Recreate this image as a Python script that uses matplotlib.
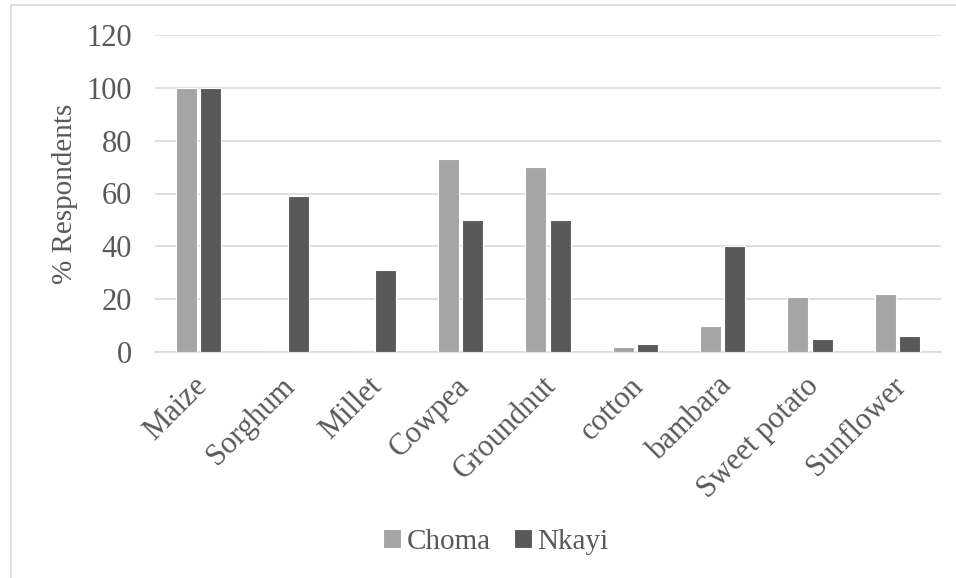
import numpy as np
import matplotlib.pyplot as plt
import matplotlib.transforms as mtransforms
from matplotlib.patches import Rectangle

crops = ["Maize", "Sorghum", "Millet", "Cowpea", "Groundnut", "cotton",
         "bambara", "Sweet potato", "Sunflower"]
choma = [100, 0, 0, 73, 70, 2, 10, 21, 22]
nkayi = [100, 59, 31, 50, 50, 3, 40, 5, 6]

TEXT = "#595959"
GRID = "#d9d9d9"

plt.rcParams["font.family"] = ["Liberation Serif", "DejaVu Serif"]

fig = plt.figure(figsize=(9.56, 5.78), dpi=100)
ax = fig.add_axes([155 / 956, 1 - 352 / 578, (941 - 155) / 956, (352 - 35) / 578])

x = np.arange(len(crops))
w = 0.24
ax.bar(x - 0.14, choma, w, color="#a5a5a5", edgecolor="white", linewidth=0.8, label="Choma", zorder=3)
ax.bar(x + 0.14, nkayi, w, color="#595959", edgecolor="white", linewidth=0.8, label="Nkayi", zorder=3)

ax.set_xlim(-0.5, len(crops) - 0.5)
ax.set_ylim(0, 120)
ax.set_yticks(range(0, 121, 20))
ax.yaxis.grid(True, color=GRID, linewidth=1.2, zorder=0)
for s in ["top", "right", "left"]:
    ax.spines[s].set_visible(False)
ax.spines["bottom"].set_color(GRID)
ax.spines["bottom"].set_linewidth(1.2)
ax.tick_params(length=0, colors=TEXT, labelsize=22)
ax.tick_params(axis="y", pad=16.5)
ax.tick_params(axis="x", pad=14)
ax.set_xticks(x)
ax.set_xticklabels(crops, rotation=45, ha="right", rotation_mode="anchor")
# nudge rotated labels a little to the left
shift = mtransforms.ScaledTranslation(-6 / 100, 0, fig.dpi_scale_trans)
for lbl in ax.get_xticklabels():
    lbl.set_transform(lbl.get_transform() + shift)
ax.set_ylabel("% Respondents", color=TEXT, fontsize=21, labelpad=6)

fig.legend(loc="center", bbox_to_anchor=(0.519, 1 - 542 / 578), ncol=2, frameon=False,
           fontsize=21, labelcolor=TEXT, handlelength=0.6, handleheight=0.6,
           handletextpad=0.2, columnspacing=0.8)

# outer chart border
fig.patches.append(Rectangle((11 / 956, -0.1), 1.2, 1 - 5 / 578 + 0.1, transform=fig.transFigure,
                             fill=False, edgecolor=GRID, linewidth=1.2))

fig.savefig("out.png", dpi=100)
